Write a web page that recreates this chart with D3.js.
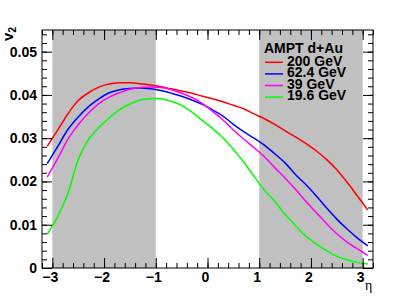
<!DOCTYPE html>
<html>
<head>
<meta charset="utf-8">
<script src="https://d3js.org/d3.v7.min.js"></script>
<style>
  body { margin: 0; background: #fff; }
  svg text { font-family: "Liberation Sans", Arial, sans-serif; fill: #000; }
</style>
</head>
<body>
<div class="chart"></div>
<script>
// v2 vs eta, AMPT d+Au

var eta = [-3.1, -2.9, -2.7, -2.5, -2.3, -2.1, -1.9, -1.7, -1.5, -1.3, -1.1, -0.9, -0.7, -0.5, -0.3, -0.1,
            0.1,  0.3,  0.5,  0.7,  0.9,  1.1,  1.3,  1.5,  1.7,  1.9,  2.1,  2.3,  2.5,  2.7,  2.9,  3.1];

var v2_200 = [0.0281, 0.0318, 0.0356, 0.0387, 0.0405, 0.0418, 0.0425, 0.0428, 0.0428, 0.0426, 0.0423, 0.0419, 0.0414, 0.0409, 0.0404, 0.0397,
              0.0391, 0.0384, 0.0376, 0.0368, 0.0356, 0.0345, 0.0332, 0.0317, 0.0303, 0.0288, 0.0271, 0.0251, 0.0227, 0.0198, 0.0166, 0.0134];
var v2_624 = [0.0241, 0.0280, 0.0320, 0.0349, 0.0373, 0.0391, 0.0405, 0.0412, 0.0415, 0.0416, 0.0414, 0.0410, 0.0404, 0.0397, 0.0388, 0.0378,
              0.0365, 0.0351, 0.0332, 0.0315, 0.0300, 0.0284, 0.0264, 0.0243, 0.0216, 0.0193, 0.0167, 0.0139, 0.0113, 0.0090, 0.0069, 0.0051];
var v2_39  = [0.0210, 0.0252, 0.0297, 0.0331, 0.0358, 0.0380, 0.0395, 0.0405, 0.0413, 0.0417, 0.0418, 0.0417, 0.0412, 0.0404, 0.0394, 0.0380,
              0.0362, 0.0342, 0.0319, 0.0298, 0.0278, 0.0257, 0.0232, 0.0208, 0.0182, 0.0154, 0.0128, 0.0103, 0.0079, 0.0060, 0.0044, 0.0029];
var v2_196 = [0.0078, 0.0118, 0.0172, 0.0250, 0.0297, 0.0325, 0.0347, 0.0366, 0.0379, 0.0388, 0.0391, 0.0391, 0.0385, 0.0376, 0.0360, 0.0341,
              0.0322, 0.0301, 0.0274, 0.0245, 0.0212, 0.0180, 0.0154, 0.0124, 0.0098, 0.0074, 0.0056, 0.0040, 0.0027, 0.0019, 0.0013, 0.0009];

var seriesNames = ["200 GeV", "62.4 GeV", "39 GeV", "19.6 GeV"];
var seriesValues = [v2_200, v2_624, v2_39, v2_196];
var seriesColors = ["#ff0000", "#0000ff", "#ff00ff", "#00ff00"];

var shadeRanges = [[-3, -1], [1, 3]];
var xTicks = [-3, -2, -1, 0, 1, 2, 3];
var yTicks = [0, 0.01, 0.02, 0.03, 0.04, 0.05];
var legendTitle = "AMPT d+Au";

var width = 415,
    height = 298,
    frame = {left: 42, right: 373, top: 30, bottom: 268};

/* scales */
var x = d3.scaleLinear().domain([-3.2, 3.2]).range([frame.left, frame.right]);
var y = d3.scaleLinear().domain([0, 0.055]).range([frame.bottom, frame.top]);

var svg = d3.select(".chart").append("svg")
    .attr("width", width)
    .attr("height", height);

/* shaded eta windows */
svg.selectAll("rect.shade")
    .data(shadeRanges)
    .enter().append("rect")
    .attr("class", "shade")
    .attr("x", function(d) { return x(d[0]); })
    .attr("width", function(d) { return x(d[1]) - x(d[0]); })
    .attr("y", frame.top)
    .attr("height", frame.bottom - frame.top)
    .attr("fill", "#c0c0c0");

/* curves */
var line = d3.line()
    .x(function(d, i) { return x(eta[i]); })
    .y(function(d) { return y(d); })
    .curve(d3.curveCatmullRom);

svg.selectAll("path.curve")
    .data(seriesValues)
    .enter().append("path")
    .attr("class", "curve")
    .attr("d", line)
    .attr("fill", "none")
    .attr("stroke", function(d, i) { return seriesColors[i]; })
    .attr("stroke-width", 1.5);

// axes, ROOT style: ticks inside the frame on all four sides
var xMinor = d3.range(-3.2, 3.21, 0.2).map(function(v) { return +v.toFixed(1); });
var yMinor = d3.range(0, 0.0551, 0.002).map(function(v) { return +v.toFixed(3); });

// bottom
svg.append("g").attr("transform", "translate(0," + frame.bottom + ")")
    .call(d3.axisTop(x).tickValues(xMinor).tickSize(5).tickFormat("").tickSizeOuter(0));
svg.append("g").attr("transform", "translate(0," + frame.bottom + ")")
    .call(d3.axisTop(x).tickValues(xTicks).tickSize(10).tickFormat("").tickSizeOuter(0));
// top
svg.append("g").attr("transform", "translate(0," + frame.top + ")")
    .call(d3.axisBottom(x).tickValues(xMinor).tickSize(5).tickFormat("").tickSizeOuter(0));
svg.append("g").attr("transform", "translate(0," + frame.top + ")")
    .call(d3.axisBottom(x).tickValues(xTicks).tickSize(10).tickFormat("").tickSizeOuter(0));
// left
svg.append("g").attr("transform", "translate(" + frame.left + ",0)")
    .call(d3.axisRight(y).tickValues(yMinor).tickSize(5).tickFormat("").tickSizeOuter(0));
svg.append("g").attr("transform", "translate(" + frame.left + ",0)")
    .call(d3.axisRight(y).tickValues(yTicks).tickSize(10).tickFormat("").tickSizeOuter(0));
// right
svg.append("g").attr("transform", "translate(" + frame.right + ",0)")
    .call(d3.axisLeft(y).tickValues(yMinor).tickSize(5).tickFormat("").tickSizeOuter(0));
svg.append("g").attr("transform", "translate(" + frame.right + ",0)")
    .call(d3.axisLeft(y).tickValues(yTicks).tickSize(10).tickFormat("").tickSizeOuter(0));

svg.selectAll(".domain").remove();
svg.selectAll(".tick line").attr("stroke", "#000").attr("stroke-width", 1);

/* frame */
svg.append("rect")
    .attr("x", frame.left)
    .attr("y", frame.top)
    .attr("width", frame.right - frame.left)
    .attr("height", frame.bottom - frame.top)
    .attr("fill", "none")
    .attr("stroke", "#000")
    .attr("stroke-width", 1);

/* tick labels */
svg.selectAll("text.xlab")
    .data(xTicks)
    .enter().append("text")
    .attr("class", "xlab")
    .attr("x", function(d) { return x(d) - 2; })
    .attr("y", 282)
    .attr("text-anchor", "middle")
    .attr("font-size", 14)
    .attr("font-weight", "bold")
    .text(function(d) { return d < 0 ? "\u2212" + (-d) : d; });

svg.selectAll("text.ylab")
    .data(yTicks)
    .enter().append("text")
    .attr("class", "ylab")
    .attr("x", 37)
    .attr("y", function(d) { return y(d); })
    .attr("dy", "0.36em")
    .attr("text-anchor", "end")
    .attr("font-size", 14)
    .attr("font-weight", "bold")
    .text(function(d) { return d === 0 ? "0" : d3.format(".2f")(d); });

/* axis titles */
var yTitle = svg.append("text")
    .attr("transform", "translate(13,27) rotate(-90)")
    .attr("text-anchor", "end")
    .attr("font-weight", "bold");
yTitle.append("tspan").attr("font-size", 15).text("v");
yTitle.append("tspan").attr("font-size", 10).attr("dy", 3).text("2");

svg.append("text")
    .attr("x", 365)
    .attr("y", 290)
    .style("font-family", "'Liberation Serif', serif")
    .style("fill", "#000")
    .attr("font-size", 14)
    .text("\u03b7");

/* legend */
svg.append("text")
    .attr("x", 264)
    .attr("y", 53)
    .attr("font-size", 14)
    .attr("font-weight", "bold")
    .text(legendTitle);

var legend = svg.selectAll("g.legend")
    .data(seriesNames)
    .enter().append("g")
    .attr("class", "legend")
    .attr("transform", function(d, i) { return "translate(0," + (i * 11.6) + ")"; });

legend.append("line")
    .attr("x1", 265).attr("x2", 283)
    .attr("y1", 62.3).attr("y2", 62.3)
    .attr("stroke", function(d, i) { return seriesColors[i]; })
    .attr("stroke-width", 1.5);

legend.append("text")
    .attr("x", 287)
    .attr("y", 65.5)
    .attr("font-size", 14)
    .attr("font-weight", "bold")
    .text(function(d) { return d; });
</script>
</body>
</html>
